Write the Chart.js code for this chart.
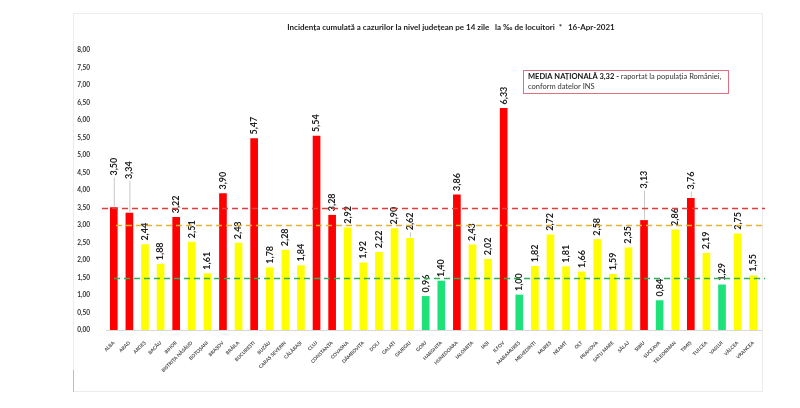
<!DOCTYPE html>
<html>
<head>
<meta charset="utf-8">
<script src="https://cdn.jsdelivr.net/npm/chart.js@4.4.1/dist/chart.umd.min.js"></script>
<style>
  html, body { margin: 0; padding: 0; background: #fff; }
  #wrap { width: 800px; height: 408px; position: relative; }
</style>
</head>
<body>
<div id="wrap"><canvas id="incidenta"></canvas></div>
<script>
'use strict';

// ------------------ data ------------------
const judete = [
  'ALBA', 'ARAD', 'ARGEȘ', 'BACĂU', 'BIHOR', 'BISTRIȚA NĂSĂUD', 'BOTOȘANI',
  'BRAȘOV', 'BRĂILA', 'BUCUREȘTI', 'BUZĂU', 'CARAȘ SEVERIN', 'CĂLĂRAȘI',
  'CLUJ', 'CONSTANȚA', 'COVASNA', 'DÂMBOVIȚA', 'DOLJ', 'GALAȚI', 'GIURGIU',
  'GORJ', 'HARGHITA', 'HUNEDOARA', 'IALOMIȚA', 'IAȘI', 'ILFOV', 'MARAMUREȘ',
  'MEHEDINȚI', 'MUREȘ', 'NEAMȚ', 'OLT', 'PRAHOVA', 'SATU MARE', 'SĂLAJ',
  'SIBIU', 'SUCEAVA', 'TELEORMAN', 'TIMIȘ', 'TULCEA', 'VASLUI', 'VÂLCEA',
  'VRANCEA'
];
const incidenta = [
  3.50, 3.34, 2.44, 1.88, 3.22, 2.51, 1.61,
  3.90, 2.48, 5.47, 1.78, 2.28, 1.84,
  5.54, 3.28, 2.92, 1.92, 2.22, 2.90, 2.62,
  0.96, 1.40, 3.86, 2.43, 2.02, 6.33, 1.00,
  1.82, 2.72, 1.81, 1.66, 2.58, 1.59, 2.35,
  3.13, 0.84, 2.86, 3.76, 2.19, 1.29, 2.75,
  1.55
];
const yTicks = [0, 8, 0.25];          // min, max, step
const pragRosu = 3.5;
const pragGalben = 3.0;
const pragVerde = 1.5;
const titlu = 'Incidența cumulată a cazurilor la nivel județean pe 14 zile   la ‰ de locuitori  *   16-Apr-2021';
const mediaBold = 'MEDIA NAȚIONALĂ 3,32 - ';
const mediaText1 = 'raportat la populația României,';
const mediaText2 = 'conform datelor INS';

// labels pushed up with a leader line in the original
const ridicareEticheta = { 'ALBA': 28, 'ARAD': 30, 'SIBIU': 28, 'TIMIȘ': 5, 'GIURGIU': 4 };

function fmt(v) {
  return v.toFixed(2).replace('.', ',');
}

function barColor(v) {
  if (v > 3) return '#ff0000';
  if (v >= 1.5) return '#ffff00';
  return '#1de27a';
}

// ------------------ plugin: frame, title, box, lines, labels ------------------
const decor = {
  id: 'decor',
  beforeDraw(chart) {
    const ctx = chart.ctx;
    ctx.save();
    ctx.fillStyle = '#fff';
    ctx.fillRect(0, 0, chart.width, chart.height);
    ctx.strokeStyle = '#ececec';
    ctx.lineWidth = 1;
    ctx.strokeRect(73.5, 13.5, 689, 378);
    ctx.strokeStyle = '#bdbdbd';
    ctx.beginPath();
    ctx.moveTo(73.5, 370);
    ctx.lineTo(73.5, 392);
    ctx.stroke();
    ctx.restore();
  },
  afterDatasetsDraw(chart) {
    const ctx = chart.ctx;
    const area = chart.chartArea;
    const y = chart.scales.y;
    ctx.save();

    // value labels (with leader lines where lifted)
    const meta = chart.getDatasetMeta(0);
    ctx.font = 'bold 9px Lato, "Open Sans", sans-serif';
    ctx.textAlign = 'left';
    ctx.textBaseline = 'middle';
    meta.data.forEach((bar, i) => {
      const lift = ridicareEticheta[judete[i]] || 0;
      if (lift > 0) {
        ctx.strokeStyle = '#c8c8c8';
        ctx.lineWidth = 1;
        ctx.beginPath();
        ctx.moveTo(bar.x + 0.5, bar.y - 1);
        ctx.lineTo(bar.x + 0.5, bar.y - lift - 2);
        ctx.stroke();
      }
      ctx.save();
      ctx.fillStyle = '#222';
      ctx.translate(bar.x, bar.y - 4 - lift);
      ctx.rotate(-Math.PI / 2);
      ctx.fillText(fmt(incidenta[i]), 0, 0);
      ctx.restore();
    });

    // threshold lines
    const lines = [
      [pragRosu, '#e03c3c', 102],
      [pragGalben, '#e8b030', 116],
      [pragVerde, '#2cb05a', 114]
    ];
    ctx.lineWidth = 1.6;
    ctx.setLineDash([6, 4]);
    for (let l of lines) {
      const py = Math.round(y.getPixelForValue(l[0])) + 0.5;
      ctx.strokeStyle = l[1];
      ctx.beginPath();
      ctx.moveTo(l[2], py);
      ctx.lineTo(area.right + 4, py);
      ctx.stroke();
    }
    ctx.setLineDash([]);

    // title
    ctx.fillStyle = '#222';
    ctx.font = 'bold 8px Lato, "Open Sans", sans-serif';
    ctx.textAlign = 'center';
    ctx.textBaseline = 'middle';
    ctx.fillText(titlu, 451, 27);

    // national average box
    ctx.fillStyle = '#fff';
    ctx.fillRect(523, 70, 205, 23);
    ctx.strokeStyle = '#e07080';
    ctx.lineWidth = 1;
    ctx.strokeRect(523.5, 70.5, 205, 23);
    ctx.textAlign = 'left';
    ctx.fillStyle = '#111';
    ctx.font = 'bold 7.5px Lato, "Open Sans", sans-serif';
    ctx.fillText(mediaBold, 528, 77);
    const w = ctx.measureText(mediaBold).width;
    ctx.fillStyle = '#333';
    ctx.font = '7.5px Lato, "Open Sans", sans-serif';
    ctx.fillText(mediaText1, 528 + w, 77);
    ctx.fillText(mediaText2, 528, 87);

    ctx.restore();
  }
};

const ctxChart = document.getElementById('incidenta').getContext('2d');
const incidentaChart = new Chart(ctxChart, {
  type: 'bar',
  data: {
    labels: judete,
    datasets: [{
      data: incidenta,
      backgroundColor: incidenta.map(barColor),
      borderWidth: 0,
      barThickness: 7
    }]
  },
  options: {
    responsive: true,
    maintainAspectRatio: false,
    animation: false,
    layout: {
      padding: { left: 73, right: 39, top: 50, bottom: 33 }
    },
    plugins: {
      legend: { display: false },
      tooltip: { enabled: false }
    },
    scales: {
      x: {
        grid: { display: false },
        border: { color: '#d8d8d8' },
        afterFit(scale) { scale.height = 45; },
        ticks: {
          autoSkip: false,
          minRotation: 45,
          maxRotation: 45,
          padding: 2,
          color: '#444',
          font: { family: 'Lato, "Open Sans", sans-serif', size: 4.8, weight: 'bold' }
        }
      },
      y: {
        min: yTicks[0],
        max: yTicks[1],
        grid: { display: false },
        border: { display: false },
        afterFit(scale) { scale.width = 33; },
        ticks: {
          stepSize: yTicks[2],
          padding: 8,
          color: '#333',
          font: { family: 'Lato, "Open Sans", sans-serif', size: 6.5, weight: 'bold' },
          callback: (v) => fmt(v)
        }
      }
    }
  },
  plugins: [decor]
});
</script>
</body>
</html>
